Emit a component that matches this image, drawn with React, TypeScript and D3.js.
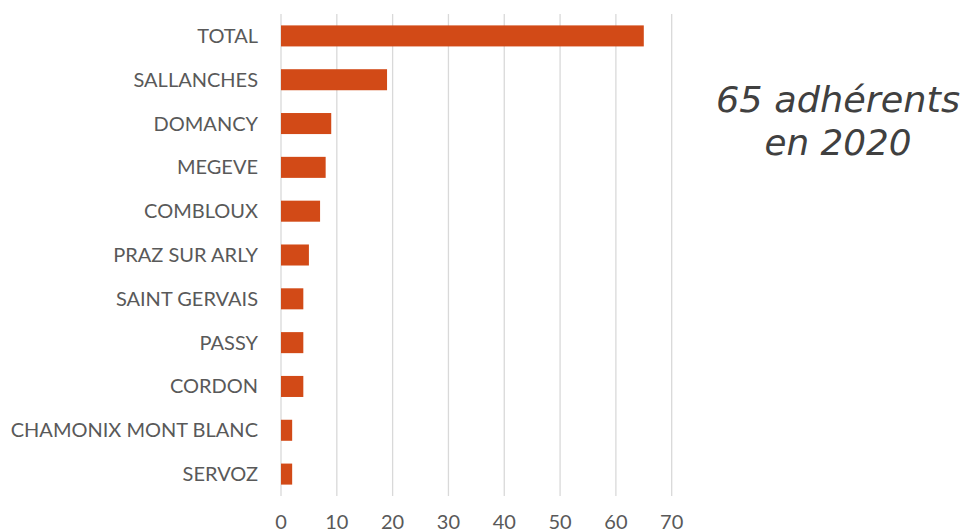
import React from "react";
import * as d3 from "d3";

const categories = [
  "TOTAL",
  "SALLANCHES",
  "DOMANCY",
  "MEGEVE",
  "COMBLOUX",
  "PRAZ SUR ARLY",
  "SAINT GERVAIS",
  "PASSY",
  "CORDON",
  "CHAMONIX MONT BLANC",
  "SERVOZ",
];
const values = [65, 19, 9, 8, 7, 5, 4, 4, 4, 2, 2];
const xTicks = [0, 10, 20, 30, 40, 50, 60, 70];
const annotation = ["65 adhérents", "en 2020"];
const annotationWidths = [244, 147];

const W = 965;
const H = 532;

export default function App() {
  const x = d3.scaleLinear().domain([0, 70]).range([281, 671.7]);
  const y = d3.scaleBand().domain(categories).range([14, 496]).paddingInner(0.52).paddingOuter(0.26);
  const labelFont = "Lato, 'Open Sans', sans-serif";
  return (
    <svg width={W} height={H} style={{ position: "absolute", left: 0, top: 0, background: "#fff" }}>
      <g>
        {xTicks.map((t) => (
          <line key={t} x1={x(t)} x2={x(t)} y1={14} y2={496} stroke="#D9D9D9" strokeWidth={1.3} />
        ))}
      </g>
      <g>
        {categories.map((c, i) => (
          <rect key={c} x={x(0)} y={y(c)} width={x(values[i]) - x(0)} height={y.bandwidth()} fill="#D24A17" />
        ))}
      </g>
      <g>
        {categories.map((c) => (
          <text
            key={c}
            x={258}
            y={(y(c) as number) + y.bandwidth() / 2}
            dy="0.35em"
            textAnchor="end"
            fontFamily={labelFont}
            fontSize={20}
            fill="#595959"
          >
            {c}
          </text>
        ))}
      </g>
      <g>
        {xTicks.map((t) => (
          <text key={t} x={x(t)} y={529} textAnchor="middle" fontFamily={labelFont} fontSize={20} fill="#595959">
            {t}
          </text>
        ))}
      </g>
      <g>
        {annotation.map((line, i) => (
          <text
            key={i}
            x={838}
            y={112 + i * 43}
            textAnchor="middle"
            fontFamily="'DejaVu Sans', sans-serif"
            fontStyle="italic"
            fontWeight={300}
            fontSize={35}
            textLength={annotationWidths[i]}
            lengthAdjust="spacingAndGlyphs"
            fill="#404040"
          >
            {line}
          </text>
        ))}
      </g>
    </svg>
  );
}
